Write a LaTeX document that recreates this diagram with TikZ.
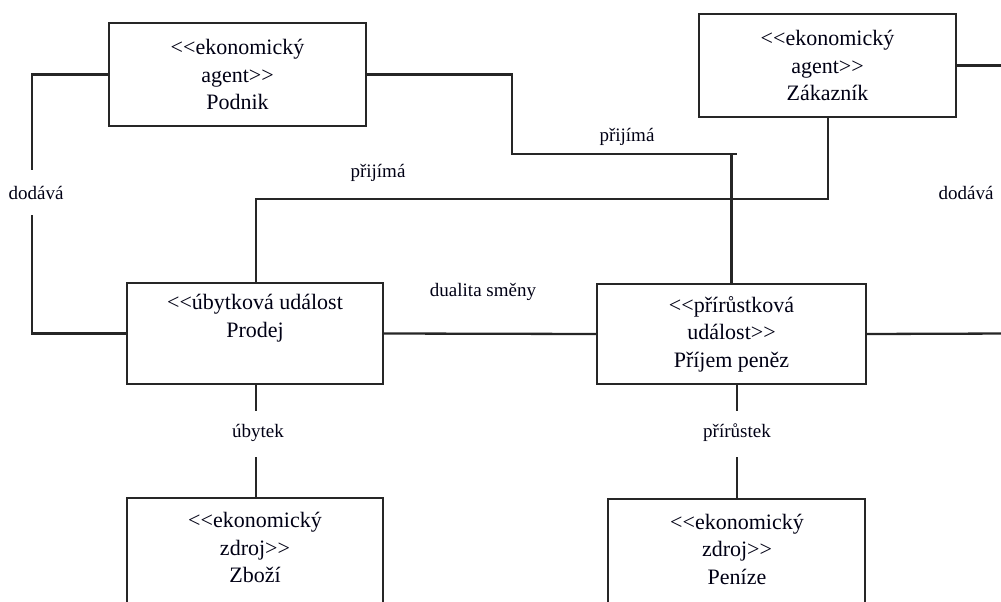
\documentclass[tikz,border=0pt]{standalone}
\usepackage{fontspec}
\setmainfont{Liberation Serif}
\begin{document}
\begin{tikzpicture}[x=1pt,y=-1pt,
  wire/.style={draw=black!85, line width=2.3pt},
  box/.style={draw=black!85, line width=2.3pt, fill=white, inner sep=0pt, align=center,
    font=\fontsize{22}{27.5}\selectfont, text=black!92!blue},
  boxtext/.style={inner sep=0pt, align=center,
    font=\fontsize{22}{27.5}\selectfont, text=black!92!blue},
  rel/.style={inner sep=0pt, font=\fontsize{19}{22}\selectfont, text=black!92!blue}]
\useasboundingbox (0,0) rectangle (1001,602);
\clip (0,0) rectangle (1001,602);

% agents
\node[box, minimum width=257pt, minimum height=103pt] (podnik) at (237.5,74.5)
  {<{}<ekonomický\\agent>{}>\\Podnik};
\node[box, minimum width=257pt, minimum height=103pt] (zakaznik) at (827.5,65.5)
  {<{}<ekonomický\\agent>{}>\\Zákazník};

% events
\node[box, minimum width=256pt, minimum height=101pt] (prodej) at (255,333.5)
  {<{}<úbytková událost\\Prodej\\\strut};
\node[box, minimum width=269pt, minimum height=100pt] (prijem) at (731.5,334)
  {<{}<přírůstková\\událost>{}>\\Příjem peněz};

% resources (continue below the page edge)
\node[box, minimum width=256pt, minimum height=140pt, anchor=north] (zbozi) at (255,497) {};
\node[boxtext] (zbozitext) at (255,547.5) {<{}<ekonomický\\zdroj>{}>\\Zboží};
\node[box, minimum width=257pt, minimum height=140pt, anchor=north] (penize) at (736.5,498) {};
\node[boxtext] (penizetext) at (737,549) {<{}<ekonomický\\zdroj>{}>\\Peníze};

% relation labels
\node[rel] (dodL) at (36,192.5) {dodává};
\node[rel] (dodR) at (966,192.5) {dodává};
\node[rel] (prijP) at (627,137) {přijímá};
\node[rel] (prijZ) at (378,173) {přijímá};
\node[rel] (dual) at (483,292) {dualita směny};
\node[rel] (ubytek) at (258,433) {úbytek};
\node[rel] (prirustek) at (737,433) {přírůstek};

% helper points
\coordinate (dlTop) at (32,170);
\coordinate (dlBot) at (32,215);
\coordinate (pBend) at (512,154);
\coordinate (pEnd) at (737,154);
\coordinate (pJoin) at (731.5,154);
\coordinate (zBend) at (828,199);
\coordinate (zOut) at (1010,65.5);
\coordinate (rOut) at (1010,333.5);
\coordinate (uTop) at (256,411);
\coordinate (uBot) at (256,457);
\coordinate (pTop) at (737,384);
\coordinate (prTop) at (737,411);
\coordinate (prBot) at (737,457);

% Podnik -- dodává -- Prodej
\draw[wire] (podnik.west) -| (dlTop);
\draw[wire] (dlBot) |- (prodej.west);

% Podnik -- přijímá -- Příjem peněz
\draw[wire] (podnik.east) -| (pBend) -- (pEnd);
\draw[wire] (pJoin) -- (prijem.north);

% Zákazník -- přijímá -- Prodej
\draw[wire] (zakaznik.south -| zBend) -- (zBend) -| (prodej.north -| uTop);

% Zákazník -- dodává (leaves to the right)
\draw[wire] (zakaznik.east) -- (zOut);

% duality of exchange
\draw[wire] (prodej.east) -- (prijem.west);
\draw[wire] (prijem.east) -- (rOut);

% Prodej -- úbytek -- Zboží
\draw[wire] (prodej.south -| uTop) -- (uTop);
\draw[wire] (uBot) -- (zbozi.north -| uBot);

% Příjem peněz -- přírůstek -- Peníze
\draw[wire] (pTop) -- (prTop);
\draw[wire] (prBot) -- (penize.north -| prBot);
\end{tikzpicture}
\end{document}
